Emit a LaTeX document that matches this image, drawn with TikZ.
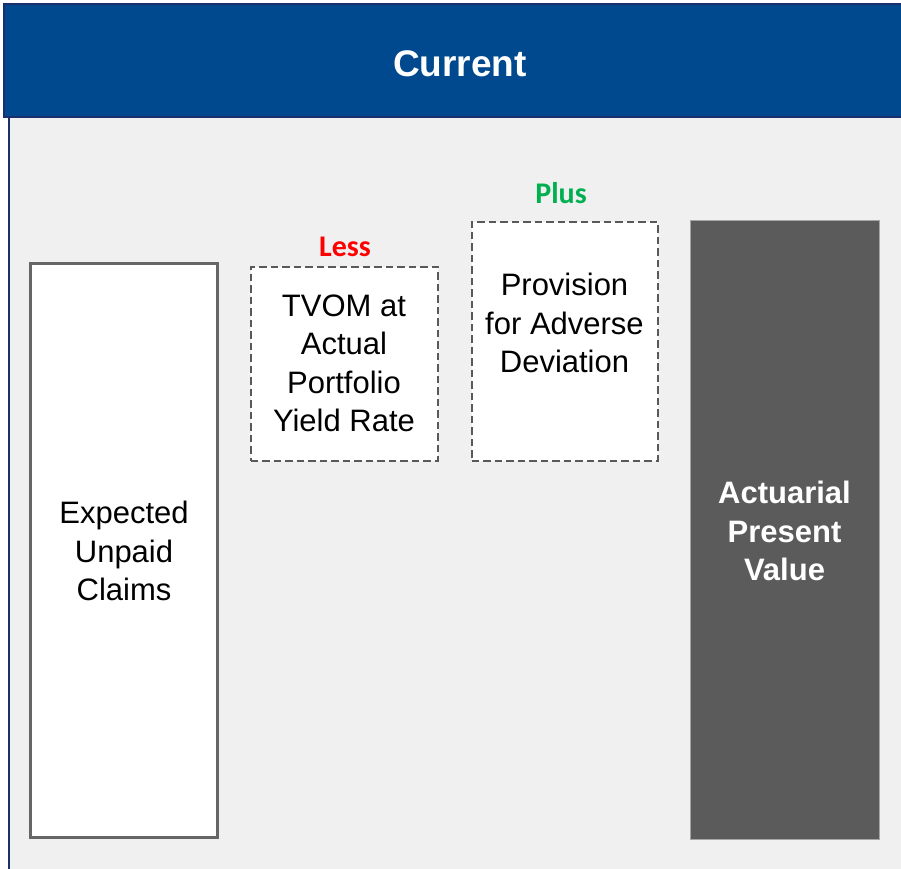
\documentclass[tikz,border=0pt]{standalone}
\usepackage{fontspec}
\setmainfont{Liberation Sans}
\newfontfamily\calibri{Carlito}
\definecolor{hdr}{HTML}{00498F}
\definecolor{navy}{HTML}{1A2F6B}
\definecolor{bodybg}{HTML}{F0F0F0}
\definecolor{boxline}{HTML}{666666}
\definecolor{dashline}{HTML}{595959}
\definecolor{apvfill}{HTML}{5B5B5B}
\definecolor{apvedge}{HTML}{A6A6A6}
\definecolor{lessred}{HTML}{FF0000}
\definecolor{plusgreen}{HTML}{00B050}
\begin{document}
\begin{tikzpicture}[x=1bp,y=-1bp,
  bodytext/.style={inner sep=0pt, align=center, font=\fontsize{31bp}{38.5bp}\selectfont},
  solidbox/.style={draw=boxline, fill=white, line width=2.2bp, inner sep=0pt},
  dashbox/.style={draw=dashline, fill=white, line width=2bp, dash pattern=on 7.5bp off 4bp, inner sep=0pt},
  darkbox/.style={draw=apvedge, fill=apvfill, line width=0.8bp, inner sep=0pt},
  opword/.style={inner sep=0pt, anchor=base, font=\calibri\bfseries\fontsize{30bp}{36bp}\selectfont}]
\useasboundingbox (0,0) rectangle (901,869);
\fill[white] (0,0) rectangle (901,869);
\fill[bodybg] (9,117) rectangle (910,880);
\draw[navy, line width=2.6bp] (9,117) -- (9,880);
\fill[hdr] (4,4) rectangle (910,117);
\draw[navy, line width=1.4bp] (910,4) -- (4,4) -- (4,117) -- (910,117);
\node[inner sep=0pt, anchor=base, text=white, font=\bfseries\fontsize{37bp}{44bp}\selectfont] (title) at (460,76) {Current};

\node[solidbox, minimum width=187bp, minimum height=574bp] (euc) at (124,550.5) {};
\node[bodytext] (euct) at (124,551) {Expected\\Unpaid\\Claims};

\node[dashbox, minimum width=187bp, minimum height=194bp] (tvom) at (344,363.5) {};
\node[bodytext] (tvomt) at (344,363.5) {TVOM at\\Actual\\Portfolio\\Yield Rate};
\node[opword, text=lessred] (less) at (345,256) {Less};

\node[dashbox, minimum width=186bp, minimum height=239bp] (pad) at (564.5,341) {};
\node[bodytext] (padt) at (564.5,323.2) {Provision\\for Adverse\\Deviation};
\node[opword, text=plusgreen] (plus) at (561,203) {Plus};

\node[darkbox, minimum width=189bp, minimum height=619bp] (apv) at (784.5,529.5) {};
\node[bodytext, text=white, font=\bfseries\fontsize{31bp}{38.5bp}\selectfont] (apvt) at (784.5,531) {Actuarial\\Present\\Value};
\end{tikzpicture}
\end{document}
